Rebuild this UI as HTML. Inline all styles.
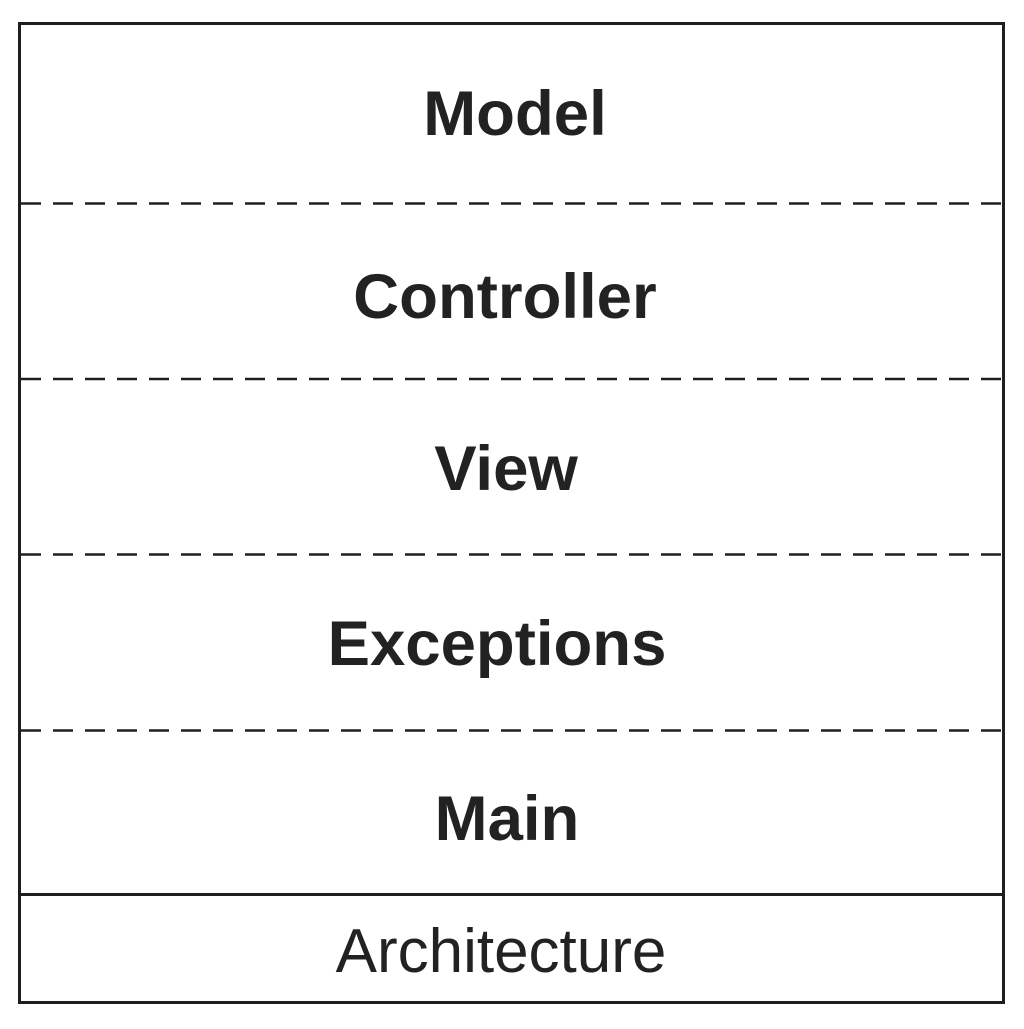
<!DOCTYPE html>
<html><head><style>html,body{margin:0;padding:0;background:#fff}</style></head>
<body>
<svg width="1024" height="1024" xmlns="http://www.w3.org/2000/svg">
<rect width="1024" height="1024" fill="#fff"/>
<g stroke="#1e1e1e" fill="none">
<rect x="19.5" y="23.5" width="984" height="979" stroke-width="3"/>
<line x1="21" y1="894.5" x2="1002" y2="894.5" stroke-width="3"/>
<g stroke-width="2.5" stroke-dasharray="20 12">
<line x1="21" y1="203.5" x2="1002" y2="203.5"/>
<line x1="21" y1="379" x2="1002" y2="379"/>
<line x1="21" y1="554.5" x2="1002" y2="554.5"/>
<line x1="21" y1="730.5" x2="1002" y2="730.5"/>
</g>
</g>
<g font-family="Liberation Sans, Arial, sans-serif" fill="#222" text-anchor="middle">
<g font-weight="bold" font-size="63.5">
<text x="515" y="135">Model</text>
<text x="505" y="318">Controller</text>
<text x="506" y="490">View</text>
<text x="497" y="665">Exceptions</text>
<text x="507" y="840">Main</text>
</g>
<text x="501" y="972" font-size="62">Architecture</text>
</g>
</svg>
</body></html>
